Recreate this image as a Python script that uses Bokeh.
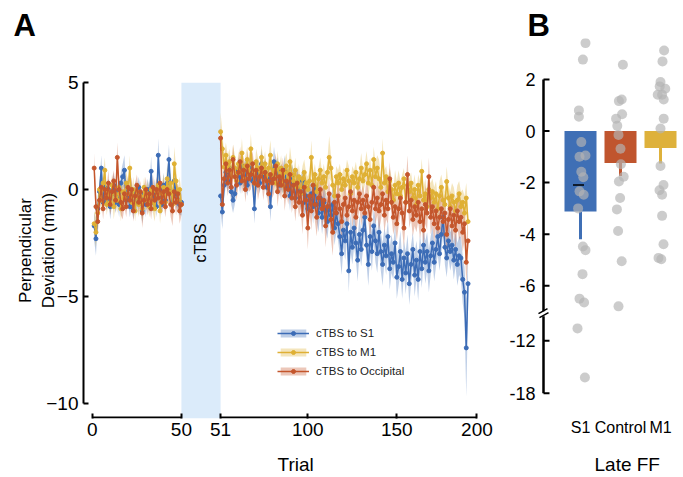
import math
from bokeh.plotting import figure
from bokeh.layouts import row
from bokeh.models import Range1d, FixedTicker, Legend, LegendItem, Label, Title
from bokeh.embed import file_html
from bokeh.resources import INLINE

FONT = "Liberation Sans"

# ---------------- Panel A data ----------------
pre_trials = list(range(1, 51))
post_trials = list(range(51, 191))
GAP = 21  # display gap (trial units) occupied by the cTBS block

s1_pre = [-1.7, -2.3, -0.9, -0.1, 1.0, -0.6, 0.1, -0.5, 0.0, -0.8,
          -0.2, 0.2, -0.6, -0.1, -0.7, 0.3, 0.6, 0.9, -0.5, 0.0,
          -0.8, -0.2, -0.9, -0.1, -0.6, 0.1, -0.4, -1.0, -0.2, -0.7,
          0.0, -0.5, 0.85, -0.6, -0.1, -0.8, 1.6, 0.0, -0.7, 0.2,
          -0.5, 0.3, 1.4, -0.1, -0.6, 0.4, -0.2, -0.5, -0.7, -0.6]
s1_post = [-0.3, -1.05, 0.2, 0.8, 0.4, 1.0, -0.1, -0.5, -0.2, 0.6,
           0.9, 0.3, 1.1, 0.5, 0.8, 0.2, 0.7, 1.0, 0.4, -0.9,
           0.5, 0.9, 0.3, 1.2, 0.6, 0.8, 0.1, 0.5, -0.8, 0.4,
           1.3, 0.7, 0.9, 0.2, 0.6, 0.4, 0.9, 0.1, 0.5, -0.3,
           0.6, 0.2, -0.4, 0.3, 0.0, -0.2, 0.4, -0.6, -0.3, -0.9,
           -0.5, -0.2, -0.8, 0.1, -0.7, -1.1, -0.4, -1.3, -0.6, -1.0,
           -1.5, -0.8, -1.2, -0.7, -1.8, -1.1, -1.6, -2.2, -3.0, -1.9,
           -2.4, -1.6, -3.8, -2.0, -2.7, -1.8, -2.5, -3.3, -2.1, -2.8,
           -1.9, -1.3, -2.6, -3.5, -2.2, -2.9, -1.7, -2.4, -3.0, -2.0,
           -2.9, -3.5, -2.6, -3.1, -2.2, -3.7, -3.0, -3.4, -2.5, -4.1,
           -3.6, -2.9, -4.2, -3.2, -3.9, -3.0, -4.4, -3.5, -2.8, -4.0,
           -3.3, -4.2, -2.9, -3.7, -2.6, -3.4, -2.9, -3.8, -3.1, -2.5,
           -3.4, -2.8, -2.2, -3.0, -2.1, -1.3, -2.7, -3.2, -2.4, -2.9,
           -2.6, -3.3, -2.8, -3.5, -3.1, -3.2, -4.2, -4.8, -7.4, -4.4]
s1_sem_pre = [0.7, 0.8, 0.6, 0.5, 0.6, 0.5, 0.6, 0.5, 0.5, 0.6,
              0.5, 0.6, 0.5, 0.5, 0.6, 0.5, 0.6, 0.7, 0.5, 0.6,
              0.5, 0.6, 0.5, 0.5, 0.6, 0.5, 0.5, 0.6, 0.5, 0.6,
              0.5, 0.6, 0.7, 0.5, 0.6, 0.5, 0.8, 0.6, 0.5, 0.6,
              0.5, 0.6, 0.7, 0.5, 0.6, 0.5, 0.6, 0.5, 0.5, 0.6]
s1_sem_post = [0.7, 0.8, 0.6, 0.6, 0.5, 0.7, 0.6, 0.6, 0.5, 0.6,
               0.6, 0.5, 0.6, 0.6, 0.7, 0.5, 0.6, 0.6, 0.5, 0.7,
               0.6, 0.6, 0.5, 0.7, 0.6, 0.6, 0.5, 0.6, 0.7, 0.6,
               0.7, 0.6, 0.6, 0.5, 0.6, 0.6, 0.7, 0.6, 0.6, 0.7,
               0.6, 0.7, 0.6, 0.7, 0.6, 0.7, 0.6, 0.7, 0.7, 0.8,
               0.7, 0.6, 0.8, 0.7, 0.8, 0.9, 0.7, 0.8, 0.7, 0.9,
               0.8, 0.7, 0.9, 0.8, 0.8, 0.9, 0.8, 0.9, 1.0, 0.8,
               0.9, 0.8, 1.0, 0.9, 0.8, 0.9, 0.8, 1.0, 0.9, 0.8,
               0.9, 0.8, 0.9, 1.0, 0.8, 0.9, 0.8, 1.0, 0.9, 0.8,
               0.9, 1.0, 0.8, 0.9, 0.8, 1.0, 0.9, 0.8, 0.9, 1.0,
               0.9, 1.0, 0.9, 0.8, 1.0, 0.9, 1.0, 0.9, 0.8, 1.0,
               0.9, 1.0, 0.8, 0.9, 0.8, 1.0, 0.9, 1.0, 0.9, 0.8,
               0.9, 0.8, 0.9, 0.8, 0.9, 0.7, 0.8, 0.9, 0.8, 0.9,
               0.8, 0.9, 0.8, 1.0, 0.9, 1.0, 1.1, 1.2, 2.3, 1.3]

m1_pre = [-1.6, -2.0, -1.1, 0.0, -0.5, 0.3, 0.9, -0.7, -0.1, -0.6,
          0.2, -0.8, -0.2, -0.5, 0.1, -0.9, -0.1, -0.4, 0.3, -0.2,
          1.0, -0.6, 0.0, -1.0, -0.1, -0.7, -0.3, -0.9, 0.1, -0.5,
          -0.2, -0.8, 0.0, -0.6, -0.9, -0.1, 0.2, -1.0, -0.2, 0.1,
          -0.6, 0.5, -0.1, 0.3, -0.7, 1.2, 0.4, -0.5, 0.0, -0.7]
m1_post = [2.7, 1.9, 1.05, 1.6, 0.9, 1.3, 0.6, 1.5, 1.0, 0.4,
           1.2, 0.8, 1.7, 0.5, 1.1, 1.4, 0.7, 1.9, 0.9, 0.3,
           1.3, 1.0, 0.6, 1.5, 0.8, 1.2, 0.4, 1.0, 1.6, 0.7,
           0.9, 0.3, 1.2, 0.6, 1.0, 0.2, 0.8, 1.1, 0.5, 1.3,
           0.7, 0.4, 0.9, 0.1, 0.6, -0.2, 0.5, 0.8, 0.3, 0.0,
           0.4, 1.5, 0.2, 0.7, -0.1, 0.5, 0.9, 0.3, 0.6, 0.1,
           0.8, 1.5, 1.0, 0.2, -0.3, 0.6, 0.3, 0.7, 0.0, 0.5,
           0.2, 0.9, 0.4, -0.2, 0.6, 0.3, 0.8, 0.1, 0.5, 1.0,
           0.4, 0.7, 1.2, 0.3, 0.9, 0.2, 1.4, 0.6, 1.0, 0.5,
           0.1, 1.7, 0.3, 0.6, -0.1, 0.4, 0.0, -0.5, 0.2, -0.2,
           0.3, -0.3, 0.1, 0.5, -0.6, 0.2, -0.1, 0.3, -0.4, 0.0,
           -0.7, 0.2, -0.3, 0.85, -0.5, -0.2, -0.8, 0.0, -0.4, -0.1,
           -0.6, -0.2, -0.9, -0.3, 0.1, -0.5, -0.7, 0.37, -0.4, -0.8,
           -0.3, -0.6, -1.0, -0.5, -0.2, -0.8, -0.6, -1.1, -0.4, -1.5]
m1_sem_pre = [0.6, 0.7, 0.6, 0.5, 0.6, 0.5, 0.6, 0.5, 0.6, 0.5,
              0.5, 0.6, 0.5, 0.6, 0.5, 0.6, 0.5, 0.5, 0.6, 0.5,
              0.6, 0.5, 0.6, 0.5, 0.5, 0.6, 0.5, 0.6, 0.5, 0.5,
              0.6, 0.5, 0.6, 0.5, 0.6, 0.5, 0.6, 0.6, 0.5, 0.6,
              0.5, 0.7, 0.6, 0.5, 0.6, 0.8, 0.6, 0.5, 0.6, 0.5]
m1_sem_post = [0.9, 0.8, 0.6, 0.6, 0.7, 0.6, 0.5, 0.6, 0.6, 0.5,
               0.6, 0.5, 0.7, 0.6, 0.5, 0.6, 0.6, 0.7, 0.5, 0.6,
               0.6, 0.5, 0.6, 0.6, 0.5, 0.6, 0.5, 0.6, 0.7, 0.5,
               0.6, 0.5, 0.6, 0.5, 0.6, 0.5, 0.6, 0.6, 0.5, 0.7,
               0.6, 0.5, 0.6, 0.5, 0.6, 0.5, 0.6, 0.6, 0.5, 0.6,
               0.5, 0.8, 0.6, 0.5, 0.6, 0.5, 0.6, 0.5, 0.6, 0.5,
               0.6, 1.0, 0.6, 0.5, 0.6, 0.5, 0.6, 0.5, 0.6, 0.5,
               0.6, 0.5, 0.7, 0.6, 0.5, 0.6, 0.5, 0.6, 0.5, 0.7,
               0.6, 0.5, 0.6, 0.7, 0.6, 0.5, 0.6, 0.7, 0.6, 0.9,
               0.6, 0.7, 0.6, 0.5, 0.7, 0.6, 0.6, 0.5, 0.7, 0.6,
               0.6, 0.7, 0.6, 0.5, 0.6, 0.7, 0.6, 0.5, 0.6, 0.7,
               0.6, 0.5, 0.7, 0.6, 0.6, 0.7, 0.6, 0.5, 0.7, 0.6,
               0.7, 0.6, 0.5, 0.7, 0.6, 0.7, 0.6, 0.7, 0.6, 0.7,
               0.6, 0.7, 0.6, 0.7, 0.6, 0.7, 0.6, 0.8, 0.7, 0.8]

occ_pre = [1.0, -0.8, -1.5, -0.5, 0.1, -0.9, 0.0, -0.4, 0.3, -0.7,
           -0.1, 0.4, -0.5, 1.5, 0.0, -0.6, -0.9, -0.2, -0.8, 0.1,
           -0.5, 0.0, -1.0, -0.3, 0.2, -0.6, -0.1, -1.1, -0.5, 0.0,
           -0.7, -0.2, -0.9, 0.1, -0.5, 0.0, -0.4, 0.3, -0.6, -0.1,
           -0.8, 0.0, -0.2, -0.7, -1.0, -0.1, -0.6, -0.2, -1.0, -0.7]
occ_post = [2.4, -0.7, 0.5, 1.2, 0.3, 0.9, 0.1, 1.4, 0.6, 0.2,
            0.8, 1.3, 0.4, 0.9, 0.0, 1.1, 0.5, 0.7, 1.2, 0.3,
            0.9, 0.2, 0.6, 1.0, 0.1, 0.8, 0.4, -0.2, 0.7, 0.3,
            0.5, 1.1, -0.1, 0.6, 0.2, 0.9, -0.3, 0.4, 0.0, 0.7,
            -0.4, 0.2, -0.8, 0.3, -0.6, -0.1, -1.2, 0.1, -0.5, -1.8,
            -0.3, -1.0, 0.2, -0.7, -1.3, -0.4, 0.0, -0.9, -0.5, -1.7,
            -0.8, -0.2, -1.4, -2.0, -0.6, -1.1, -0.3, -0.9, -1.5, -0.7,
            -0.4, -1.2, -0.8, -0.1, -1.0, -0.5, -1.3, -0.6, -0.2, -0.9,
            -0.5, -1.1, -0.3, -0.8, -1.4, -0.6, 0.1, -0.9, -0.4, -1.0,
            -0.7, -0.2, -1.2, -0.5, -0.9, 0.5, -0.6, -1.3, -0.8, -1.6,
            -0.9, -0.4, -1.1, -1.8, -0.6, 0.7, -1.0, -0.5, -1.4, -0.8,
            -1.2, -0.6, -1.5, -0.9, -1.9, -0.7, -1.1, 0.6, -1.3, -0.8,
            -1.6, -1.0, -1.8, -1.3, -0.9, -1.5, -1.1, -2.1, -1.4, -0.9,
            -1.7, -1.2, -1.9, -1.0, -1.5, -1.3, -2.0, -1.6, -3.4, -2.4]
occ_sem_pre = [0.7, 0.6, 0.6, 0.5, 0.6, 0.5, 0.6, 0.5, 0.6, 0.5,
               0.6, 0.5, 0.6, 0.7, 0.5, 0.6, 0.5, 0.6, 0.5, 0.6,
               0.5, 0.6, 0.5, 0.6, 0.5, 0.6, 0.5, 0.7, 0.5, 0.6,
               0.5, 0.6, 0.5, 0.6, 0.5, 0.6, 0.5, 0.6, 0.5, 0.6,
               0.5, 0.6, 0.5, 0.6, 0.7, 0.5, 0.6, 0.5, 0.6, 0.5]
occ_sem_post = [0.8, 0.7, 0.6, 0.7, 0.6, 0.7, 0.6, 0.7, 0.6, 0.7,
                0.6, 0.7, 0.6, 0.7, 0.6, 0.7, 0.6, 0.7, 0.6, 0.7,
                0.6, 0.7, 0.6, 0.7, 0.6, 0.7, 0.6, 0.7, 0.6, 0.7,
                0.7, 0.6, 0.7, 0.6, 0.7, 0.6, 0.7, 0.6, 0.7, 0.8,
                0.7, 0.8, 0.7, 0.8, 0.7, 0.8, 0.9, 0.7, 0.8, 1.0,
                0.8, 0.9, 0.7, 0.8, 0.9, 0.8, 0.7, 0.9, 0.8, 1.0,
                0.8, 0.7, 0.9, 1.1, 0.8, 0.9, 0.7, 0.8, 0.9, 0.8,
                0.7, 0.8, 0.9, 0.7, 0.8, 0.7, 0.8, 0.9, 0.7, 0.8,
                0.7, 0.8, 0.9, 0.7, 0.8, 0.7, 0.8, 0.7, 0.8, 0.9,
                0.8, 0.7, 0.8, 0.9, 0.7, 0.8, 0.7, 0.8, 0.9, 0.8,
                0.8, 0.7, 0.8, 0.9, 0.8, 0.9, 0.8, 0.9, 0.8, 0.9,
                0.8, 0.9, 0.8, 0.9, 0.8, 0.9, 0.8, 0.9, 0.8, 0.9,
                0.9, 0.8, 0.9, 0.8, 0.9, 0.8, 0.9, 0.8, 0.9, 0.8,
                0.9, 0.8, 0.9, 0.8, 0.9, 0.8, 0.9, 0.8, 1.0, 0.9]

series_names = ["cTBS to S1", "cTBS to M1", "cTBS to Occipital"]
series_colors = ["#3C6CB6", "#DFB034", "#C4562C"]

x_tick_pos = [0, 50, 72, 121, 171, 216]
x_tick_labels = ["0", "50", "51", "100", "150", "200"]
y_ticks_A = [-10, -5, 0, 5]

# ---------------- Panel B data ----------------
groups = ["S1", "Control", "M1"]
group_colors = ["#3F6FB5", "#C0552E", "#DEB13B"]
group_means = [-3.12, -1.24, -0.66]
group_err_low = [-4.2, -1.74, -1.26]
s1_marker = -2.09
s1_vals = [3.41, 2.77, 0.80, 0.55, -0.43, -1.0, -0.95, -1.58, -1.79, -2.34,
           -2.47, -3.0, -4.48, -4.62, -5.55, -6.5, -6.65, -10.6, -16.2]
s1_jit = [0.125, 0.06, -0.04, -0.04, 0.02, -0.025, 0.125, 0.02, 0.07, -0.025,
          0.08, -0.06, 0.06, 0.125, 0.05, -0.025, 0.09, -0.075, 0.11]
ctrl_vals = [2.57, 1.22, 1.16, 0.65, 0.48, 0.20, -0.15, -0.69, -1.29, -1.77,
             -1.96, -2.6, -3.04, -3.88, -5.05, -6.8]
ctrl_jit = [0.06, 0.03, -0.04, 0.04, -0.11, -0.08, -0.05, 0.0, 0.01, 0.08,
            -0.04, -0.01, -0.09, -0.06, 0.03, -0.05]
m1_vals = [3.12, 2.70, 1.90, 1.73, 1.64, 1.41, 1.41, 1.22, 0.48, 0.10,
           -1.36, -2.09, -2.30, -2.47, -3.29, -4.39, -4.92, -4.97]
m1_jit = [0.09, 0.05, 0.0, -0.02, 0.12, -0.07, 0.04, 0.08, 0.08, 0.0,
          0.0, 0.075, -0.025, 0.04, 0.04, 0.075, -0.05, 0.02]
y_ticks_B = [2, 0, -2, -4, -6, -12, -18]
BREAK = -7.1  # display position of the axis break


def brk(v):
    """broken y-axis of panel B: linear above -7, compressed below -9"""
    return v if v >= -7 else round(-8.13 + (v + 12) * 0.34, 4)


def style_axis(ax, size="19px"):
    ax.axis_line_width = 2
    ax.axis_line_color = "black"
    ax.major_tick_line_width = 2
    ax.major_tick_line_color = "black"
    ax.major_tick_in = 5
    ax.major_tick_out = 0
    ax.minor_tick_line_color = None
    ax.major_label_text_font = FONT
    ax.major_label_text_font_size = size
    ax.major_label_text_color = "black"
    ax.axis_label_text_font = FONT
    ax.axis_label_text_font_style = "normal"
    ax.axis_label_text_color = "black"


def style_title(t, text, size, offset, standoff, bold=True, line_height=1.0):
    t.text = text
    t.align = "left"
    t.offset = offset
    t.vertical_align = "top"
    try:
        t.standoff = standoff
    except Exception:
        t.standoff = 0
    t.text_font = FONT
    t.text_font_size = size
    t.text_font_style = "bold" if bold else "normal"
    t.text_color = "black"
    t.text_line_height = line_height


# ================= Panel A =================
yA = (-10.7, 5)
pA = figure(width=494, height=477, x_range=Range1d(-5, 218), y_range=Range1d(*yA),
            output_backend="svg", toolbar_location=None,
            min_border_left=83, min_border_right=14, min_border_top=82, min_border_bottom=59)
pA.frame_align = False
pA.outline_line_color = None
pA.grid.visible = False

# cTBS block
pA.quad(left=[x_tick_pos[1]], right=[x_tick_pos[2]], bottom=[yA[0]], top=[yA[1]],
        fill_color="#DBEBFA", line_color=None)

xpre = pre_trials
xpost = [t + GAP for t in post_trials]
data = [
    (s1_pre, s1_post, s1_sem_pre, s1_sem_post),
    (m1_pre, m1_post, m1_sem_pre, m1_sem_post),
    (occ_pre, occ_post, occ_sem_pre, occ_sem_post),
]
band_r = []
for (ypre, ypost, spre, spost), col in zip(data, series_colors):
    rr = []
    for xs, ys, ss in ((xpre, ypre, spre), (xpost, ypost, spost)):
        r = pA.varea(x=xs, y1=[a - b for a, b in zip(ys, ss)], y2=[a + b for a, b in zip(ys, ss)],
                     fill_color=col, fill_alpha=0.33)
        rr.append(r)
    band_r.append(rr)

line_r = []
for (ypre, ypost, spre, spost), col in zip(data, series_colors):
    rr = []
    for xs, ys in ((xpre, ypre), (xpost, ypost)):
        l = pA.line(xs, ys, line_color=col, line_width=1.5)
        s = pA.scatter(xs, ys, size=4, fill_color=col, line_color=col)
        rr.append((l, s))
    line_r.append(rr)

# x axis line, broken around the cTBS block
ys_axis = yA[0] + 0.05
pA.segment(x0=[x_tick_pos[0], x_tick_pos[2]], x1=[x_tick_pos[1], x_tick_pos[-1]],
           y0=[ys_axis, ys_axis], y1=[ys_axis, ys_axis], line_color="black", line_width=2)

style_axis(pA.xaxis[0])
style_axis(pA.yaxis[0])
pA.xaxis.ticker = FixedTicker(ticks=x_tick_pos)
pA.xaxis.major_label_overrides = dict(zip(x_tick_pos, x_tick_labels))
pA.xaxis.axis_line_color = None
pA.xaxis.major_label_standoff = 4
pA.yaxis.ticker = FixedTicker(ticks=y_ticks_A)
pA.yaxis.bounds = (y_ticks_A[0], y_ticks_A[-1])
pA.yaxis.major_label_standoff = 5
pA.yaxis.axis_label = "Perpendicular\nDeviation (mm)"
pA.yaxis.axis_label_text_font_size = "17px"
pA.yaxis.axis_label_standoff = -15

trial_title = Title()
style_title(trial_title, "\nTrial", "19px", 194, 0, bold=False, line_height=0.75)
pA.add_layout(trial_title, "below")
style_title(pA.title, "A\n ", "31px", -70, 6)

items = []
for name, rr, lr in zip(series_names, band_r, line_r):
    items.append(LegendItem(label=name, renderers=[rr[1], lr[1][0], lr[1][1]]))
legend = Legend(items=items, location=(194, 39), padding=0, margin=0, spacing=3,
                glyph_width=32, glyph_height=10, label_height=16, label_standoff=7,
                label_text_font=FONT, label_text_font_size="11.5px", label_text_color="#222222",
                background_fill_alpha=0, border_line_color=None)
pA.add_layout(legend)

pA.add_layout(Label(x=(x_tick_pos[1] + x_tick_pos[2]) / 2, y=-2.5, text="cTBS", angle=math.pi / 2,
                    text_align="center", text_baseline="middle", text_font=FONT,
                    text_font_size="16px", text_color="black"))

# ================= Panel B =================
yB = (-10.916, 3.588)
xB = (-0.075, 3.575)
pB = figure(width=189, height=477, x_range=Range1d(*xB), y_range=Range1d(*yB),
            output_backend="svg", toolbar_location=None,
            min_border_left=43, min_border_right=0, min_border_top=38, min_border_bottom=59)
pB.frame_align = False
pB.outline_line_color = None
pB.grid.visible = False

cats = [1, 2, 3]
pB.vbar(x=cats, width=0.8, top=[0, 0, 0], bottom=[brk(m) for m in group_means],
        fill_color=group_colors, line_color=None)
pB.segment(x0=cats, x1=cats, y0=[brk(m) for m in group_means], y1=[brk(e) for e in group_err_low],
           line_color=group_colors, line_width=3)

dx, dy = [], []
for c, vals, jit in zip(cats, (s1_vals, ctrl_vals, m1_vals), (s1_jit, ctrl_jit, m1_jit)):
    dx += [c + j for j in jit]
    dy += [brk(v) for v in vals]
pB.scatter(dx, dy, size=10, fill_color="#B4B4B4", fill_alpha=0.68, line_color=None)
pB.scatter([cats[0] - 0.05], [s1_marker], marker="dash", size=11, line_color="black", line_width=1.5)

# y axis of panel B drawn with a break: line, inward ticks and the "//" mark
tB = [brk(v) for v in y_ticks_B]
ax_x = 0.075
px_x = (xB[1] - xB[0]) / 146.0   # data units per pixel (x)
px_y = (yB[1] - yB[0]) / 380.0   # data units per pixel (y)
pB.segment(x0=[ax_x, ax_x], x1=[ax_x, ax_x],
           y0=[tB[0], BREAK - 2.2 * px_y], y1=[BREAK + 2.8 * px_y, tB[-1]],
           line_color="black", line_width=2.5)
pB.segment(x0=[ax_x] * len(tB), x1=[ax_x + 6 * px_x] * len(tB), y0=tB, y1=tB,
           line_color="black", line_width=2)
pB.segment(x0=[ax_x - 5 * px_x, ax_x - 4 * px_x], x1=[ax_x + 4 * px_x, ax_x + 5 * px_x],
           y0=[BREAK + 0.5 * px_y, BREAK - 3.5 * px_y], y1=[BREAK + 5.5 * px_y, BREAK + 1.5 * px_y],
           line_color="black", line_width=1.5)

style_axis(pB.yaxis[0], size="18px")
style_axis(pB.xaxis[0], size="16px")
pB.yaxis.ticker = FixedTicker(ticks=tB)
pB.yaxis.major_label_overrides = {t: str(v) for t, v in zip(tB, y_ticks_B)}
pB.yaxis.axis_line_color = None
pB.yaxis.major_tick_line_color = None
pB.yaxis.major_label_standoff = 2
pB.xaxis.ticker = FixedTicker(ticks=cats)
pB.xaxis.major_label_overrides = dict(zip(cats, groups))
pB.xaxis.axis_line_color = None
pB.xaxis.major_tick_line_color = None
pB.xaxis.major_label_standoff = 6

late = Title()
style_title(late, "\nLate FF", "19px", 57, 0, bold=False, line_height=0.75)
pB.add_layout(late, "below")
style_title(pB.title, "B", "31px", -10, -12)

layout = row(pA, pB)
open("out.html", "w").write(file_html(layout, INLINE))
